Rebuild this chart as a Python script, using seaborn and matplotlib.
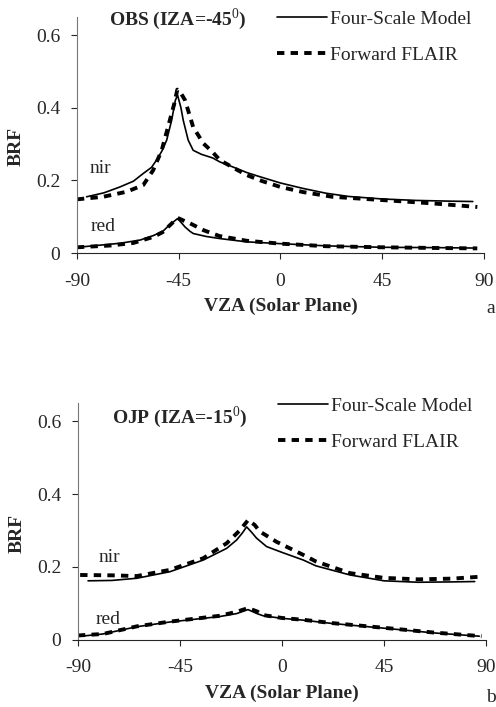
import pandas as pd
import matplotlib
matplotlib.use('Agg')
import matplotlib.pyplot as plt
from matplotlib.lines import Line2D
import seaborn as sns

# ---- panel a : OBS (IZA=-45) ----
obs_nir_fs_vza = [-85.7, -78, -71, -65, -60.7, -57, -54.8, -52.5, -50.3, -48.1, -46.5, -45.5, -44, -43, -40.8, -38.6, -35, -30, -26.8, -21, -15, -10, 0, 10, 20, 30, 45, 60, 75, 85]
obs_nir_fs_brf = [0.155, 0.166, 0.182, 0.198, 0.219, 0.236, 0.256, 0.280, 0.311, 0.366, 0.420, 0.435, 0.400, 0.366, 0.311, 0.283, 0.272, 0.262, 0.251, 0.237, 0.222, 0.212, 0.193, 0.178, 0.165, 0.156, 0.149, 0.145, 0.143, 0.142]
obs_nir_fl_vza = [-90, -78.4, -68, -60.7, -56.3, -52.5, -48.9, -47, -45.6, -44, -42.2, -38.6, -34.1, -30, -26.8, -20, -15, -8, 0, 10, 23, 45, 67, 87]
obs_nir_fl_brf = [0.148, 0.155, 0.169, 0.187, 0.228, 0.283, 0.366, 0.410, 0.450, 0.440, 0.421, 0.347, 0.302, 0.278, 0.256, 0.232, 0.215, 0.198, 0.182, 0.168, 0.155, 0.146, 0.137, 0.127]
obs_red_fs_vza = [-88, -71, -62, -56.3, -52, -50, -47.5, -45.5, -44, -42.2, -40, -38.6, -33, -26.8, -15, 0, 20, 45, 70, 85]
obs_red_fs_brf = [0.017, 0.027, 0.036, 0.048, 0.060, 0.072, 0.085, 0.095, 0.085, 0.072, 0.060, 0.054, 0.046, 0.040, 0.031, 0.026, 0.020, 0.016, 0.015, 0.014]
obs_red_fl_vza = [-90, -75, -65, -56, -52, -50, -47.5, -45.5, -43, -40, -34, -27, -15, 0, 20, 45, 70, 87]
obs_red_fl_brf = [0.016, 0.021, 0.028, 0.045, 0.058, 0.070, 0.085, 0.097, 0.090, 0.082, 0.063, 0.047, 0.034, 0.026, 0.019, 0.016, 0.014, 0.013]

# ---- panel b : OJP (IZA=-15) ----
ojp_nir_fs_vza = [-85.5, -75, -64, -49.4, -34.7, -24.4, -20, -17.5, -15.6, -13.5, -11.2, -6.8, 0, 9.4, 15, 30, 45, 60, 75, 85]
ojp_nir_fs_brf = [0.162, 0.163, 0.169, 0.187, 0.219, 0.251, 0.274, 0.293, 0.310, 0.296, 0.279, 0.256, 0.240, 0.219, 0.203, 0.178, 0.162, 0.158, 0.159, 0.160]
ojp_nir_fl_vza = [-89, -75, -64, -49.4, -34.7, -24.4, -18.5, -14.9, -12, -9.7, -2.4, 9.4, 15, 30, 45, 60, 75, 87]
ojp_nir_fl_brf = [0.178, 0.177, 0.175, 0.192, 0.224, 0.265, 0.301, 0.329, 0.315, 0.297, 0.269, 0.233, 0.215, 0.183, 0.170, 0.166, 0.168, 0.173]
ojp_red_fs_vza = [-87, -79, -64, -49.4, -27.4, -20, -15, -11, -8.3, 0, 9.4, 22, 45, 67, 87]
ojp_red_fs_brf = [0.011, 0.016, 0.036, 0.049, 0.064, 0.072, 0.083, 0.072, 0.066, 0.059, 0.054, 0.045, 0.032, 0.019, 0.010]
ojp_red_fl_vza = [-90, -79, -64, -49.4, -27.4, -20, -15, -11, -8.3, 0, 9.4, 22, 45, 67, 88]
ojp_red_fl_brf = [0.012, 0.016, 0.037, 0.050, 0.066, 0.077, 0.087, 0.078, 0.068, 0.060, 0.055, 0.046, 0.033, 0.020, 0.010]

models = ['Four-Scale Model', 'Forward FLAIR']
xticks = [-90, -45, 0, 45, 90]
yticks = [0, 0.2, 0.4, 0.6]
titles = {'OBS': 'OBS (IZA=-45$^{0}$)', 'OJP': 'OJP (IZA=-15$^{0}$)'}

rows = []
def add(panel, band, model, vza, brf):
    for v, b in zip(vza, brf):
        rows.append({'panel': panel, 'band': band, 'model': model, 'vza': v, 'brf': b})

add('OBS', 'nir', models[0], obs_nir_fs_vza, obs_nir_fs_brf)
add('OBS', 'nir', models[1], obs_nir_fl_vza, obs_nir_fl_brf)
add('OBS', 'red', models[0], obs_red_fs_vza, obs_red_fs_brf)
add('OBS', 'red', models[1], obs_red_fl_vza, obs_red_fl_brf)
add('OJP', 'nir', models[0], ojp_nir_fs_vza, ojp_nir_fs_brf)
add('OJP', 'nir', models[1], ojp_nir_fl_vza, ojp_nir_fl_brf)
add('OJP', 'red', models[0], ojp_red_fs_vza, ojp_red_fs_brf)
add('OJP', 'red', models[1], ojp_red_fl_vza, ojp_red_fl_brf)
df = pd.DataFrame(rows)

sns.set_style('ticks')
plt.rcParams['font.family'] = ['Liberation Serif', 'DejaVu Serif']
plt.rcParams['mathtext.fontset'] = 'custom'
plt.rcParams['mathtext.rm'] = 'Liberation Serif'
plt.rcParams['mathtext.bf'] = 'Liberation Serif:bold'
plt.rcParams['font.size'] = 14

DASHES = {models[0]: '', models[1]: (1.9, 1.6)}
WIDTHS = {models[0]: 1.2, models[1]: 2.8}

fig = plt.figure(figsize=(4.96, 7.07), dpi=100)
ax_a = fig.add_axes([0.155, 0.642, 0.821, 0.334])
ax_b = fig.add_axes([0.157, 0.095, 0.823, 0.335])

label_pos = {
    'OBS': {'nir': (-79.8, 0.234), 'red': (-78.5, 0.074)},
    'OJP': {'nir': (-75.9, 0.225), 'red': (-76.8, 0.055)},
}
title_pos = {'OBS': (0.248, 0.99), 'OJP': (0.25, 0.941)}
legend_pos = {'OBS': (0.558, 0.985), 'OJP': (0.560, 0.438)}

for ax, panel in [(ax_a, 'OBS'), (ax_b, 'OJP')]:
    sub = df[df['panel'] == panel]
    sns.lineplot(data=sub, x='vza', y='brf', style='model', size='model',
                 units='band', estimator=None, sort=False, color='black',
                 dashes=DASHES, sizes=WIDTHS, legend=False, ax=ax)
    ax.set_xlim(-90, 90)
    ax.set_ylim(0, 0.65)
    ax.set_xticks(xticks)
    ax.set_xticklabels([str(t) for t in xticks])
    ax.set_yticks(yticks)
    ax.set_yticklabels(['0', '0.2', '0.4', '0.6'])
    ax.tick_params(axis='x', direction='out', length=4, width=0.8, pad=10, labelsize=14)
    ax.tick_params(axis='y', direction='out', length=4, width=0.8, pad=8, labelsize=14)
    sns.despine(ax=ax)
    ax.spines['left'].set_color('#777777')
    ax.spines['left'].set_linewidth(0.8)
    ax.spines['bottom'].set_linewidth(0.8)
    ax.set_xlabel('VZA (Solar Plane)', fontweight='bold', fontsize=14)
    ax.set_ylabel('BRF', fontweight='bold', fontsize=14)
    ax.xaxis.set_label_coords(0.5, -0.19)
    ax.yaxis.set_label_coords(-0.128, 0.45)
    for band, (x, y) in label_pos[panel].items():
        ax.text(x, y, band, ha='center', va='center', fontsize=14)
    tx, ty = title_pos[panel]
    ax.text(tx, ty, titles[panel], transform=ax.transAxes, ha='center',
            va='center', fontsize=14, fontweight='bold')
    handles = [Line2D([], [], color='black', lw=WIDTHS[m],
                      dashes=(DASHES[m] if DASHES[m] else (None, None)))
               for m in models]
    ax.legend(handles, models, loc='upper left', bbox_to_anchor=legend_pos[panel],
              bbox_transform=fig.transFigure, frameon=False, fontsize=14,
              handlelength=2.6, handletextpad=0.15, labelspacing=0.95,
              borderpad=0, borderaxespad=0)

fig.text(0.98, 0.564, 'a', ha='left', va='center', fontsize=14)
fig.text(0.98, 0.013, 'b', ha='left', va='center', fontsize=14)

fig.savefig('out.png', dpi=100)
